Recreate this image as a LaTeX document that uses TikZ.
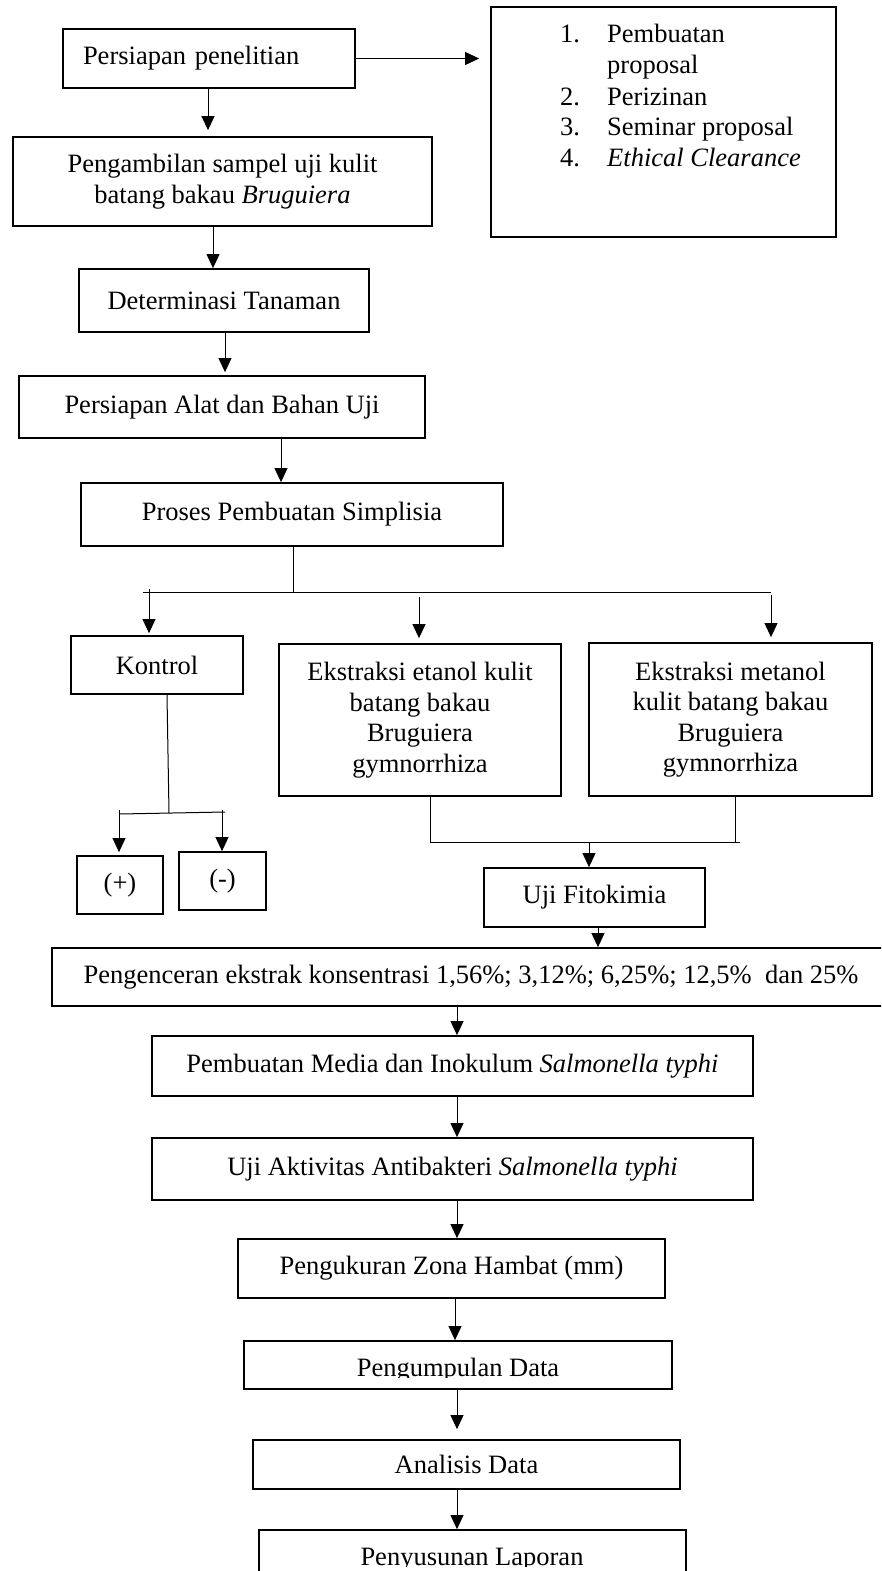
\documentclass[tikz,border=0pt]{standalone}
\usepackage{fontspec}
\setmainfont{Liberation Serif}
\usetikzlibrary{arrows.meta}
\begin{document}
\begin{tikzpicture}[x=1pt,y=-1pt,
  box/.style={draw, line width=1.8pt, rectangle, inner sep=0pt, align=center, font=\fontsize{26.5pt}{30.5pt}\selectfont},
  txt/.style={inner sep=0pt, font=\fontsize{26.5pt}{30.5pt}\selectfont},
  conn/.style={line width=1pt},
  arr/.style={line width=1pt, -{Triangle[length=14pt,width=13pt]}},
]
\useasboundingbox (0,0) rectangle (881,1571);
\clip (0,0) rectangle (881,1571);

% boxes
\node[box, minimum width=292pt, minimum height=59pt, text width=252pt, align=left, inner xsep=20pt] (prep) at (209,58.5) {Persiapan penelitian};
\node[box, minimum width=345pt, minimum height=230pt] (list) at (663.5,122) {};
\node[txt, anchor=base west] (n1) at (560,43) {1.};
\node[txt, anchor=base west] (l1) at (607,43) {Pembuatan};
\node[txt, anchor=base west] (l1b) at (607,74) {proposal};
\node[txt, anchor=base west] (n2) at (560,105) {2.};
\node[txt, anchor=base west] (l2) at (607,105) {Perizinan};
\node[txt, anchor=base west] (n3) at (560,135) {3.};
\node[txt, anchor=base west] (l3) at (607,135) {Seminar proposal};
\node[txt, anchor=base west] (n4) at (560,166) {4.};
\node[txt, anchor=base west] (l4) at (607,166) {\textit{Ethical Clearance}};

\node[box, minimum width=419pt, minimum height=89pt] (sample) at (222.5,181.5) {Pengambilan sampel uji kulit\\batang bakau \textit{Bruguiera}};
\node[box, minimum width=290pt, minimum height=63pt] (det) at (224,300.5) {Determinasi Tanaman};
\node[box, minimum width=406pt, minimum height=62pt] (alat) at (222,407) {Persiapan Alat dan Bahan Uji};
\node[box, minimum width=422pt, minimum height=63pt] (proses) at (292,514.5) {Proses Pembuatan Simplisia};
\node[box, minimum width=172pt, minimum height=58pt] (kontrol) at (157,665) {Kontrol};
\node[box, minimum width=282pt, minimum height=152pt] (etanol) at (420,720) {Ekstraksi etanol kulit\\batang bakau\\Bruguiera\\gymnorrhiza};
\node[box, minimum width=283pt, minimum height=153pt] (metanol) at (730.5,719.5) {Ekstraksi metanol\\kulit batang bakau\\Bruguiera\\gymnorrhiza};
\node[box, minimum width=86pt, minimum height=58pt] (plus) at (120,885) {(+)};
\node[box, minimum width=87pt, minimum height=58pt] (minus) at (222.5,881) {(-)};
\node[box, minimum width=221pt, minimum height=59pt] (fito) at (594.5,897.5) {Uji Fitokimia};
\node[box, minimum width=838pt, minimum height=58pt] (encer) at (471,977) {Pengenceran ekstrak konsentrasi 1,56\%; 3,12\%; 6,25\%; 12,5\%\ \ dan 25\%};
\node[box, minimum width=601pt, minimum height=60pt] (media) at (452.5,1066) {Pembuatan Media dan Inokulum \textit{Salmonella typhi}};
\node[box, minimum width=601pt, minimum height=62pt] (aktiv) at (452.5,1169) {Uji Aktivitas Antibakteri \textit{Salmonella typhi}};
\node[box, minimum width=427pt, minimum height=59pt] (ukur) at (451.5,1268.5) {Pengukuran Zona Hambat (mm)};
\node[box, minimum width=428pt, minimum height=48pt] (kumpul) at (458,1365) {};
\begin{scope}
\clip (244,1341) rectangle (672,1377);
\node[txt, anchor=base] (kumpulT) at (458,1376) {Pengumpulan Data};
\end{scope}
\node[box, minimum width=427pt, minimum height=49pt] (analisis) at (466.5,1464.5) {Analisis Data};
\node[box, minimum width=427pt, minimum height=70pt] (susun) at (472.5,1565) {};
\begin{scope}
\clip (259,1530) rectangle (686,1566);
\node[txt, anchor=base] (susunT) at (472,1565.5) {Penyusunan Laporan};
\end{scope}

% connectors
\draw[arr, shorten >=6pt] ([xshift=-1pt]prep.south) -- ([xshift=-14.5pt]sample.north);
\draw[arr, shorten >=11pt] (prep.east) -- (list.west |- prep.east);
\draw[arr] ([xshift=-9.5pt]sample.south) -- ([xshift=-11pt]det.north);
\draw[arr, shorten >=3pt] ([xshift=1pt]det.south) -- ([xshift=3pt]alat.north);
\draw[arr] ([xshift=59pt]alat.south) -- ([xshift=-11pt]proses.north);

\coordinate (j0) at (293,592);
\draw[conn] ([xshift=1pt]proses.south) -- (j0);
\coordinate (hL) at (143,592);
\coordinate (hR) at (771,592);
\draw[conn] (hL) -- (hR);
\coordinate (k0) at (149,589);
\draw[arr, shorten >=2pt] (k0) -- ([xshift=-8pt]kontrol.north);
\coordinate (e0) at (419,597);
\draw[arr, shorten >=5pt] (e0) -- ([xshift=-1pt]etanol.north);
\coordinate (m0) at (771,595);
\draw[arr, shorten >=5pt] (m0) -- ([xshift=40.5pt]metanol.north);

\coordinate (k1) at (169,813);
\draw[conn] ([xshift=10pt]kontrol.south) -- (k1);
\coordinate (kL) at (119,814);
\coordinate (kR) at (225,812);
\draw[conn] (kL) -- (kR);
\coordinate (p0) at (119,810);
\draw[arr, shorten >=3pt] (p0) -- ([xshift=-1pt]plus.north);
\coordinate (q0) at (222,810);
\draw[arr] (q0) -- ([xshift=-0.5pt]minus.north);

\coordinate (mL) at (430,842);
\coordinate (mR) at (740,842);
\coordinate (mM) at (735,842);
\draw[conn] ([xshift=10pt]etanol.south) -- (mL) -- (mR);
\draw[conn] ([xshift=4.5pt]metanol.south) -- (mM);
\coordinate (f0) at (589,842);
\draw[arr] (f0) -- ([xshift=-5.5pt]fito.north);

\draw[arr] ([xshift=3.5pt]fito.south) -- ([xshift=127pt]encer.north);
\draw[arr] ([xshift=-14pt]encer.south) -- ([xshift=4.5pt]media.north);
\draw[arr] ([xshift=4.5pt]media.south) -- ([xshift=4.5pt]aktiv.north);
\draw[arr] ([xshift=4.5pt]aktiv.south) -- ([xshift=5.5pt]ukur.north);
\draw[arr] ([xshift=3.5pt]ukur.south) -- ([xshift=-3pt]kumpul.north);
\draw[arr, shorten >=10pt] ([xshift=-1pt]kumpul.south) -- ([xshift=-9.5pt]analisis.north);
\draw[arr] ([xshift=-9.5pt]analisis.south) -- ([xshift=-15.5pt]susun.north);
\end{tikzpicture}
\end{document}
